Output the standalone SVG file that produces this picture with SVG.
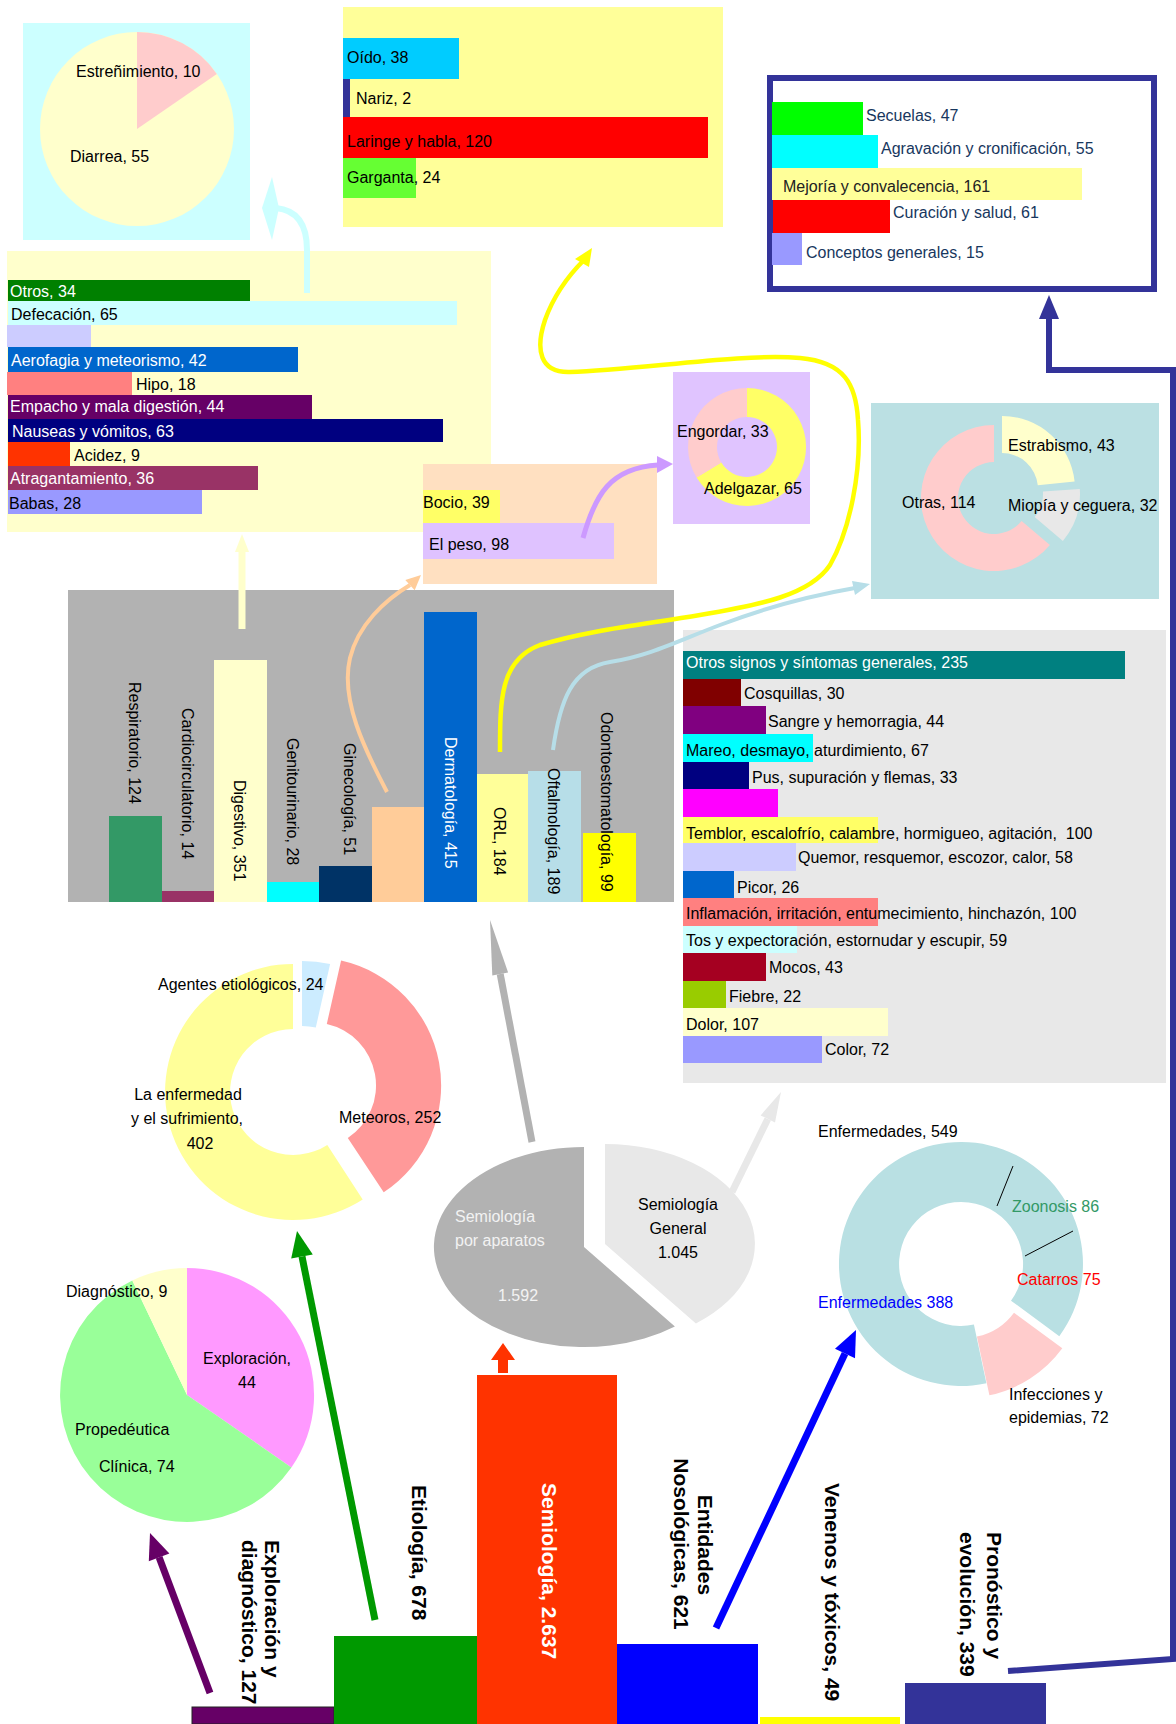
<svg xmlns="http://www.w3.org/2000/svg" width="1176" height="1724" viewBox="0 0 1176 1724">
<style>
text{font-family:"Liberation Sans",Arial,sans-serif;font-size:16px;fill:#000}
text.w{fill:#fff}
text.nv{fill:#17375E}
text.dk{fill:#222}
text.lg{fill:#F2F2F2}
text.zg{fill:#339966}
text.zr{fill:#FF0000}
text.zb{fill:#0000FF}
.b{font-size:21px;font-weight:bold}
.c{text-anchor:middle}
.ln{fill:none;stroke-linecap:butt}
</style>
<rect width="1176" height="1724" fill="#fff"/>

<g id="estrenimiento">
<rect x="23" y="23" width="227" height="217" fill="#CCFFFF"/>
<circle cx="137" cy="129" r="97" fill="#FFFFCC"/>
<path d="M137,129 L137,32 A97,97 0 0,1 216.8,73.9 Z" fill="#FFCCCC"/>
<text x="76" y="77">Estreñimiento, 10</text>
<text x="70" y="162">Diarrea, 55</text>
</g>

<g id="orl">
<rect x="343" y="7" width="380" height="220" fill="#FFFF99"/>
<rect x="343" y="38" width="116" height="41" fill="#00CCFF"/>
<rect x="343" y="79" width="7" height="38" fill="#333399"/>
<rect x="343" y="117" width="365" height="41" fill="#FF0000"/>
<rect x="343" y="158" width="73" height="40" fill="#66FF33"/>
<text x="347" y="63">Oído, 38</text>
<text x="356" y="104">Nariz, 2</text>
<text x="347" y="147">Laringe y habla, 120</text>
<text x="347" y="183">Garganta, 24</text>
</g>

<g id="pronostico-detalle">
<rect x="770" y="78" width="384" height="211" fill="#fff" stroke="#333399" stroke-width="6"/>
<rect x="772" y="102" width="91" height="33" fill="#00FF00"/>
<rect x="772" y="135" width="106" height="33" fill="#00FFFF"/>
<rect x="772" y="168" width="310" height="32" fill="#FFFF99"/>
<rect x="773" y="200" width="117" height="33" fill="#FF0000"/>
<rect x="772" y="233" width="30" height="32" fill="#9999FF"/>
<text class="nv" x="866" y="121">Secuelas, 47</text>
<text class="nv" x="881" y="154">Agravación y cronificación, 55</text>
<text class="dk" x="783" y="192">Mejoría y convalecencia, 161</text>
<text class="nv" x="893" y="218">Curación y salud, 61</text>
<text class="nv" x="806" y="258">Conceptos generales, 15</text>
</g>

<g id="digestivo-detalle">
<rect x="7" y="251" width="484" height="281" fill="#FFFFCC"/>
<rect x="8" y="280" width="242" height="21" fill="#008000"/>
<rect x="8" y="301" width="449" height="24" fill="#CCFFFF"/>
<rect x="7" y="325" width="84" height="22" fill="#CCCCFF"/>
<rect x="8" y="347" width="290" height="25" fill="#0066CC"/>
<rect x="7" y="372" width="125" height="23" fill="#FF8080"/>
<rect x="8" y="395" width="304" height="24" fill="#660066"/>
<rect x="8" y="419" width="435" height="23" fill="#000080"/>
<rect x="8" y="442" width="62" height="24" fill="#FF3300"/>
<rect x="8" y="466" width="250" height="24" fill="#993366"/>
<rect x="8" y="490" width="194" height="24" fill="#9999FF"/>
<text class="w" x="10" y="297">Otros, 34</text>
<text x="11" y="320">Defecación, 65</text>
<text class="w" x="11" y="366">Aerofagia y meteorismo, 42</text>
<text x="136" y="390">Hipo, 18</text>
<text class="w" x="10" y="412">Empacho y mala digestión, 44</text>
<text class="w" x="12" y="437">Nauseas y vómitos, 63</text>
<text x="74" y="461">Acidez, 9</text>
<text class="w" x="10" y="484">Atragantamiento, 36</text>
<text x="9" y="509">Babas, 28</text>
</g>

<g id="bocio">
<rect x="423" y="464" width="234" height="120" fill="#FFE0C1"/>
<rect x="423" y="490" width="77" height="33" fill="#FFFF66"/>
<rect x="423" y="523" width="191" height="36" fill="#DFC2FF"/>
<text x="423" y="508">Bocio, 39</text>
<text x="429" y="550">El peso, 98</text>
</g>

<g id="peso">
<rect x="673" y="372" width="137" height="152" fill="#E0C4FF"/>
<path d="M747,388 A59,59 0 1,1 696.6,477.6 L721.3,462.5 A30,30 0 1,0 747,417 Z" fill="#FFFF66"/>
<path d="M696.6,477.6 A59,59 0 0,1 747,388 L747,417 A30,30 0 0,0 721.3,462.5 Z" fill="#FFCCCC"/>
<text x="677" y="437">Engordar, 33</text>
<text x="704" y="494">Adelgazar, 65</text>
</g>

<g id="oftalmologia">
<rect x="871" y="403" width="288" height="196" fill="#BBE0E3"/>
<path d="M1049.9,544.9 A73,73 0 1,1 994,425 L994,462 A36,36 0 1,0 1021.6,521.1 Z" fill="#FFCCCC"/>
<path d="M1002,416 A73,73 0 0,1 1074.6,481.4 L1037.8,485.2 A36,36 0 0,0 1002,453 Z" fill="#FFFFCC"/>
<path d="M1079.8,488.9 A73,73 0 0,1 1062.9,540.9 L1034.6,517.1 A36,36 0 0,0 1042.9,491.5 Z" fill="#E8E8E8"/>
<text x="1008" y="451">Estrabismo, 43</text>
<text x="902" y="508">Otras, 114</text>
<text x="1008" y="511">Miopía y ceguera, 32</text>
</g>

<g id="por-aparatos">
<rect x="68" y="590" width="606" height="312" fill="#B2B2B2"/>
<rect x="109" y="816" width="53" height="86" fill="#339966"/>
<rect x="162" y="891" width="52" height="11" fill="#993366"/>
<rect x="214" y="660" width="53" height="242" fill="#FFFFCC"/>
<rect x="267" y="882" width="52" height="20" fill="#00FFFF"/>
<rect x="319" y="866" width="53" height="36" fill="#003366"/>
<rect x="372" y="807" width="52" height="95" fill="#FFCC99"/>
<rect x="424" y="612" width="53" height="290" fill="#0066CC"/>
<rect x="477" y="774" width="51" height="128" fill="#FFFF99"/>
<rect x="528" y="771" width="53" height="131" fill="#B7DEE8"/>
<rect x="583" y="833" width="53" height="69" fill="#FFFF00"/>
<text transform="translate(129,682) rotate(90)">Respiratorio, 124</text>
<text transform="translate(182,708) rotate(90)">Cardiocirculatorio, 14</text>
<text transform="translate(234,780) rotate(90)">Digestivo, 351</text>
<text transform="translate(287,738) rotate(90)">Genitourinario, 28</text>
<text transform="translate(344,743) rotate(90)">Ginecología, 51</text>
<text class="w" transform="translate(445,737) rotate(90)">Dermatología, 415</text>
<text transform="translate(494,807) rotate(90)">ORL, 184</text>
<text transform="translate(548,768) rotate(90)">Oftalmología, 189</text>
<text transform="translate(601,712) rotate(90)">Odontoestomatología, 99</text>
</g>

<g id="semiologia-general">
<rect x="683" y="630" width="483" height="453" fill="#E8E8E8"/>
<rect x="683" y="651" width="442" height="28" fill="#008080"/>
<rect x="683" y="679" width="58" height="27" fill="#800000"/>
<rect x="683" y="706" width="83" height="28" fill="#800080"/>
<rect x="683" y="734" width="130" height="28" fill="#00FFFF"/>
<rect x="683" y="762" width="66" height="27" fill="#000080"/>
<rect x="683" y="789" width="95" height="28" fill="#FF00FF"/>
<rect x="683" y="817" width="195" height="26" fill="#FFFF66"/>
<rect x="683" y="843" width="113" height="28" fill="#CCCCFF"/>
<rect x="683" y="871" width="51" height="27" fill="#0066CC"/>
<rect x="683" y="898" width="195" height="28" fill="#FF8080"/>
<rect x="683" y="926" width="114" height="27" fill="#CCFFFF"/>
<rect x="683" y="953" width="83" height="28" fill="#A50021"/>
<rect x="683" y="981" width="43" height="27" fill="#99CC00"/>
<rect x="683" y="1008" width="205" height="28" fill="#FFFFCC"/>
<rect x="683" y="1036" width="139" height="27" fill="#9999FF"/>
<text class="w" x="686" y="668">Otros signos y síntomas generales, 235</text>
<text x="744" y="699">Cosquillas, 30</text>
<text x="768" y="727">Sangre y hemorragia, 44</text>
<text x="686" y="756">Mareo, desmayo, aturdimiento, 67</text>
<text x="752" y="783">Pus, supuración y flemas, 33</text>
<text x="686" y="839">Temblor, escalofrío, calambre, hormigueo, agitación,&#160; 100</text>
<text x="798" y="863">Quemor, resquemor, escozor, calor, 58</text>
<text x="737" y="893">Picor, 26</text>
<text x="686" y="919">Inflamación, irritación, entumecimiento, hinchazón, 100</text>
<text x="686" y="946">Tos y expectoración, estornudar y escupir, 59</text>
<text x="769" y="973">Mocos, 43</text>
<text x="729" y="1002">Fiebre, 22</text>
<text x="686" y="1030">Dolor, 107</text>
<text x="825" y="1055">Color, 72</text>
</g>

<g id="etiologia-detalle">
<path d="M362.7,1199.4 A128,128 0 1,1 293,964 L293,1029 A63,63 0 1,0 327.3,1144.9 Z" fill="#FFFF99"/>
<path d="M341.1,960.6 A128,128 0 0,1 383.7,1192.3 L347.8,1138 A63,63 0 0,0 326.8,1024 Z" fill="#FF9999"/>
<path d="M302,961 A128,128 0 0,1 330.1,964.1 L315.8,1027.5 A63,63 0 0,0 302,1026 Z" fill="#CCECFF"/>
<text x="158" y="990">Agentes etiológicos, 24</text>
<text class="c" x="188" y="1100">La enfermedad</text>
<text class="c" x="187" y="1124">y el sufrimiento,</text>
<text class="c" x="200" y="1149">402</text>
<text x="339" y="1123">Meteoros, 252</text>
</g>

<g id="semiologia-detalle">
<path d="M584,1247 L674.9,1326.5 A150,100 0 1,1 584,1147 Z" fill="#B2B2B2"/>
<path d="M605,1244 L605,1144 A150,100 0 0,1 695.9,1323.5 Z" fill="#E8E8E8"/>
<text class="lg" x="455" y="1222">Semiología</text>
<text class="lg" x="455" y="1246">por aparatos</text>
<text class="lg" x="498" y="1301">1.592</text>
<text class="c" x="678" y="1210">Semiología</text>
<text class="c" x="678" y="1234">General</text>
<text class="c" x="678" y="1258">1.045</text>
</g>

<g id="entidades-detalle">
<path d="M986.4,1383.3 A122,122 0 1,1 1059.3,1336.2 L1011,1300.7 A62,62 0 1,0 973.9,1324.6 Z" fill="#B9E0E3"/>
<path d="M1062.3,1348.2 A122,122 0 0,1 989.4,1395.3 L976.9,1336.6 A62,62 0 0,0 1014,1312.7 Z" fill="#FFCCCC"/>
<line x1="1013" y1="1166" x2="997" y2="1206" stroke="#000" stroke-width="1"/>
<line x1="1073" y1="1231" x2="1025" y2="1256" stroke="#000" stroke-width="1"/>
<text x="818" y="1137">Enfermedades, 549</text>
<text class="zg" x="1012" y="1212">Zoonosis 86</text>
<text class="zr" x="1017" y="1285">Catarros 75</text>
<text class="zb" x="818" y="1308">Enfermedades 388</text>
<text x="1009" y="1400">Infecciones y</text>
<text x="1009" y="1423">epidemias, 72</text>
</g>

<g id="exploracion-detalle">
<path d="M187,1395 L187,1268 A127,127 0 0,1 291.4,1467.4 Z" fill="#FF99FF"/>
<path d="M187,1395 L291.4,1467.4 A127,127 0 1,1 132.3,1280.4 Z" fill="#99FF99"/>
<path d="M187,1395 L132.3,1280.4 A127,127 0 0,1 187,1268 Z" fill="#FFFFCC"/>
<text x="66" y="1297">Diagnóstico, 9</text>
<text class="c" x="247" y="1364">Exploración,</text>
<text class="c" x="247" y="1388">44</text>
<text x="75" y="1435">Propedéutica</text>
<text x="99" y="1472">Clínica, 74</text>
</g>

<g id="exploracion">
<rect x="192" y="1707" width="142" height="17" fill="#660066" stroke="#222" stroke-width="1"/>
<text class="b" transform="translate(265,1540) rotate(90)">Exploración y</text>
<text class="b" transform="translate(242,1540) rotate(90)">diagnóstico, 127</text>
</g>
<g id="etiologia">
<rect x="334" y="1636" width="143" height="88" fill="#009900"/>
<text class="b" transform="translate(412,1485) rotate(90)">Etiología, 678</text>
</g>
<g id="semiologia">
<rect x="477" y="1375" width="140" height="349" fill="#FF3300"/>
<text class="b w" transform="translate(542,1483) rotate(90)">Semiología, 2.637</text>
</g>
<g id="entidades">
<rect x="617" y="1644" width="141" height="80" fill="#0000FF"/>
<text class="b c" transform="translate(698,1545) rotate(90)">Entidades</text>
<text class="b c" transform="translate(674,1544) rotate(90)">Nosológicas, 621</text>
</g>
<g id="venenos">
<rect x="760" y="1717" width="140" height="7" fill="#FFFF00"/>
<text class="b" transform="translate(825,1483) rotate(90)">Venenos y tóxicos, 49</text>
</g>
<g id="pronostico">
<rect x="905" y="1683" width="141" height="41" fill="#333399"/>
<text class="b" transform="translate(987,1532) rotate(90)">Pronóstico y</text>
<text class="b" transform="translate(960,1532) rotate(90)">evolución, 339</text>
</g>

<g id="connectors">
<path class="ln" d="M307,293 L307,250 C307,224 297,210 276,208" stroke="#CCFFFF" stroke-width="6"/>
<polygon points="272,177 262,208 272,240 279,208" fill="#CCFFFF"/>
<line x1="242" y1="629" x2="242" y2="550" stroke="#FFFFCC" stroke-width="7"/>
<polygon points="242,534 235,552 249,552" fill="#FFFFCC"/>
<path class="ln" d="M387,792 C365,750 340,700 350,658 C358,625 385,600 410,585" stroke="#FFCC99" stroke-width="4"/>
<polygon points="421,575 414.7,590.3 405.3,580.1" fill="#FFCC99"/>
<path class="ln" d="M583,538 C595,495 610,468 658,465" stroke="#CC99FF" stroke-width="5"/>
<polygon points="673,464 657,456 657,473" fill="#CC99FF"/>
<path class="ln" d="M500,752 C500,700 500,660 540,645 C590,630 640,625 700,615 C760,605 810,595 830,565 C850,530 862,470 858,420 C856,385 845,362 800,358 C740,353 640,370 570,372 C540,373 535,350 545,320 C555,292 572,272 584,260" stroke="#FFFF00" stroke-width="4.5"/>
<polygon points="592,248 589,267 575,259" fill="#FFFF00"/>
<path class="ln" d="M553,750 C560,700 572,668 610,662 C650,656 680,640 720,625 C770,606 820,594 855,588" stroke="#B7DEE8" stroke-width="4"/>
<polygon points="870,584 852,581 855,595" fill="#B7DEE8"/>
<line x1="532" y1="1142" x2="500.2" y2="974" stroke="#B2B2B2" stroke-width="7"/>
<polygon points="490,920 508.1,972.6 492.3,975.6" fill="#B2B2B2"/>
<line x1="732" y1="1192" x2="767.8" y2="1119" stroke="#E8E8E8" stroke-width="7"/>
<polygon points="781,1092 775,1122.4 760.6,1115.4" fill="#E8E8E8"/>
<line x1="375" y1="1620" x2="302" y2="1256.5" stroke="#009900" stroke-width="7"/>
<polygon points="297,1231 312.8,1254.4 291.2,1258.6" fill="#009900"/>
<line x1="210" y1="1693" x2="159.1" y2="1557.3" stroke="#660066" stroke-width="7"/>
<polygon points="150,1533 169.4,1553.4 148.8,1561.2" fill="#660066"/>
<line x1="716" y1="1628" x2="845" y2="1353.5" stroke="#0000FF" stroke-width="7"/>
<polygon points="856,1330 855,1358.2 835,1348.8" fill="#0000FF"/>
<polygon points="503,1343 515,1360 508,1360 508,1373 498,1373 498,1360 491,1360" fill="#FF3300"/>
<polyline class="ln" points="1008,1671 1173,1659 1173,370 1049,370 1049,316" stroke="#333399" stroke-width="6"/>
<polygon points="1049,295 1059,319 1039,319" fill="#333399"/>
</g>
</svg>
